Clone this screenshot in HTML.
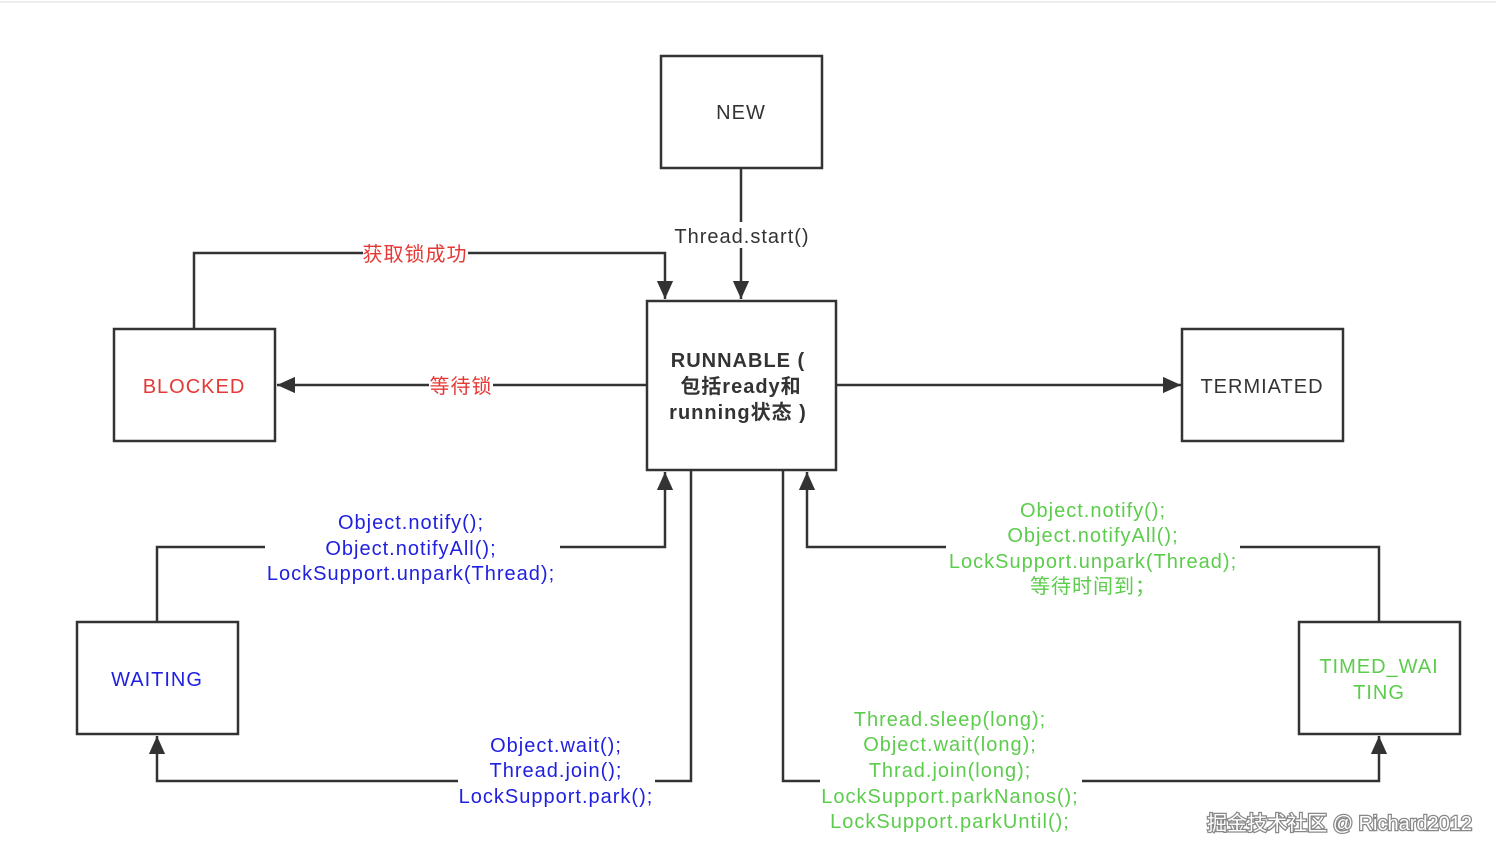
<!DOCTYPE html>
<html><head><meta charset="utf-8"><style>
html,body{margin:0;padding:0;background:#fff;}
svg{display:block}
text{font-family:"Liberation Sans","Noto Sans CJK SC",sans-serif;font-size:20px;letter-spacing:1px;}
</style></head><body>
<svg width="1496" height="860" viewBox="0 0 1496 860" xmlns="http://www.w3.org/2000/svg">
<defs>
<marker id="b" markerWidth="18" markerHeight="22" refX="20" refY="9" orient="auto" markerUnits="userSpaceOnUse" viewBox="0 0 20 18"><path d="M0,0 L20,9 L0,18 z" fill="#333"/></marker></defs>
<line x1="0" y1="2" x2="1496" y2="2" stroke="#eee" stroke-width="2"/>
<g fill="none" stroke="#333" stroke-width="2.5">
<rect x="661" y="56" width="161" height="112"/>
<rect x="647" y="301" width="189" height="169"/>
<rect x="114" y="329" width="161" height="112"/>
<rect x="1182" y="329" width="161" height="112"/>
<rect x="77" y="622" width="161" height="112"/>
<rect x="1299" y="622" width="161" height="112"/>
<polyline points="741,168 741,299" marker-end="url(#b)"/>
<polyline points="194,329 194,253 665,253 665,299" marker-end="url(#b)"/>
<polyline points="647,385 277,385" marker-end="url(#b)"/>
<polyline points="836,385 1181,385" marker-end="url(#b)"/>
<polyline points="157,622 157,547 265,547"/>
<polyline points="560,547 665,547 665,472" marker-end="url(#b)"/>
<polyline points="691,470 691,781 655,781"/>
<polyline points="458,781 157,781 157,736" marker-end="url(#b)"/>
<polyline points="783,470 783,781 820,781"/>
<polyline points="1082,781 1379,781 1379,736" marker-end="url(#b)"/>
<polyline points="1379,622 1379,547 1240,547"/>
<polyline points="946,547 807,547 807,472" marker-end="url(#b)"/>
</g>
<rect x="672" y="222" width="140" height="26" fill="#fff"/>
<rect x="363" y="241" width="105" height="26" fill="#fff"/>
<rect x="429" y="373" width="64" height="26" fill="#fff"/>
<g text-anchor="middle" fill="#333">
<text x="741" y="119">NEW</text>
<text x="742" y="243">Thread.start()</text>
<text x="1262" y="393">TERMIATED</text>
<g font-weight="bold"><text x="738" y="367">RUNNABLE (</text><text x="741" y="393">包括ready和</text><text x="738" y="419">running状态 )</text></g>
</g>
<g text-anchor="middle" fill="#e53935">
<text x="194" y="393">BLOCKED</text>
<text x="415" y="261">获取锁成功</text>
<text x="461" y="393">等待锁</text>
</g>
<g text-anchor="middle" fill="#2020e0">
<text x="157" y="686">WAITING</text>
<text x="411" y="529">Object.notify();</text>
<text x="411" y="555">Object.notifyAll();</text>
<text x="411" y="580">LockSupport.unpark(Thread);</text>
<text x="556" y="752">Object.wait();</text>
<text x="556" y="777">Thread.join();</text>
<text x="556" y="803">LockSupport.park();</text>
</g>
<g text-anchor="middle" fill="#5ccc4c">
<text x="1379" y="673">TIMED_WAI</text>
<text x="1379" y="699">TING</text>
<text x="1093" y="517">Object.notify();</text>
<text x="1093" y="542">Object.notifyAll();</text>
<text x="1093" y="568">LockSupport.unpark(Thread);</text>
<text x="1093" y="593">等待时间到；</text>
<text x="950" y="726">Thread.sleep(long);</text>
<text x="950" y="751">Object.wait(long);</text>
<text x="950" y="777">Thrad.join(long);</text>
<text x="950" y="803">LockSupport.parkNanos();</text>
<text x="950" y="828">LockSupport.parkUntil();</text>
</g>
<text x="1472" y="830" text-anchor="end" fill="#fff" stroke="#888" stroke-width="2.5" font-size="22" style="letter-spacing:0" paint-order="stroke">掘金技术社区 @ Richard2012</text>
</svg>
</body></html>
